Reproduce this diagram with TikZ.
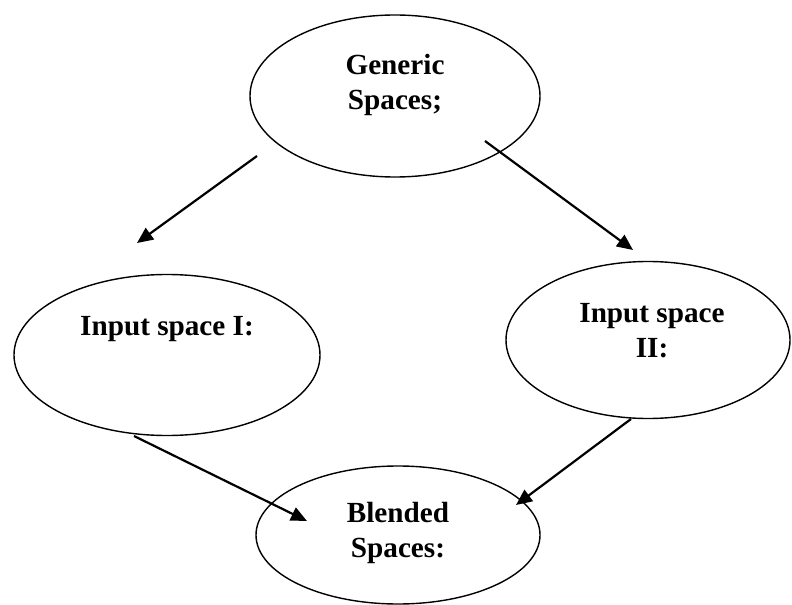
\documentclass[tikz,border=0pt]{standalone}
\usepackage{fontspec}
\setmainfont{Liberation Serif}
\usetikzlibrary{shapes.geometric,arrows.meta}
\tikzset{
  space/.style={draw, ellipse, line width=1.4bp, inner sep=0pt},
  lbl/.style={anchor=base, align=center, inner sep=0pt, font=\bfseries\fontsize{29.2bp}{35bp}\selectfont},
  arr/.style={line width=2.2bp, -{Triangle[length=16bp,width=14bp]}}
}
\begin{document}
\begin{tikzpicture}[x=1bp,y=-1bp]
\useasboundingbox (0,0) rectangle (792,605);
% ellipses
\node[space, minimum width=290bp, minimum height=162bp] (gen) at (395,96) {};
\node[space, minimum width=306bp, minimum height=161bp] (in1) at (167,355) {};
\node[space, minimum width=284bp, minimum height=157bp] (in2) at (648,340) {};
\node[space, minimum width=284bp, minimum height=138bp] (bld) at (398,535) {};
% labels (base anchor = last line baseline)
\node[lbl] (tgen) at (395,110) {Generic\\Spaces;};
\node[lbl] (tin1) at (167,335) {Input space I:};
\node[lbl] (tin2) at (652,357) {Input space\\II:};
\node[lbl] (tbld) at (398,557) {Blended\\Spaces:};
% arrow ends
\coordinate (a1s) at (257,156);
\coordinate (a1e) at (137,243);
\coordinate (a2s) at (485,141);
\coordinate (a2e) at (633,250);
\coordinate (a3s) at (134,436);
\coordinate (a3e) at (307,521);
\coordinate (a4s) at (631,419);
\coordinate (a4e) at (516,505);
\draw[arr] (a1s) -- (a1e);
\draw[arr] (a2s) -- (a2e);
\draw[arr] (a3s) -- (a3e);
\draw[arr] (a4s) -- (a4e);
\end{tikzpicture}
\end{document}
